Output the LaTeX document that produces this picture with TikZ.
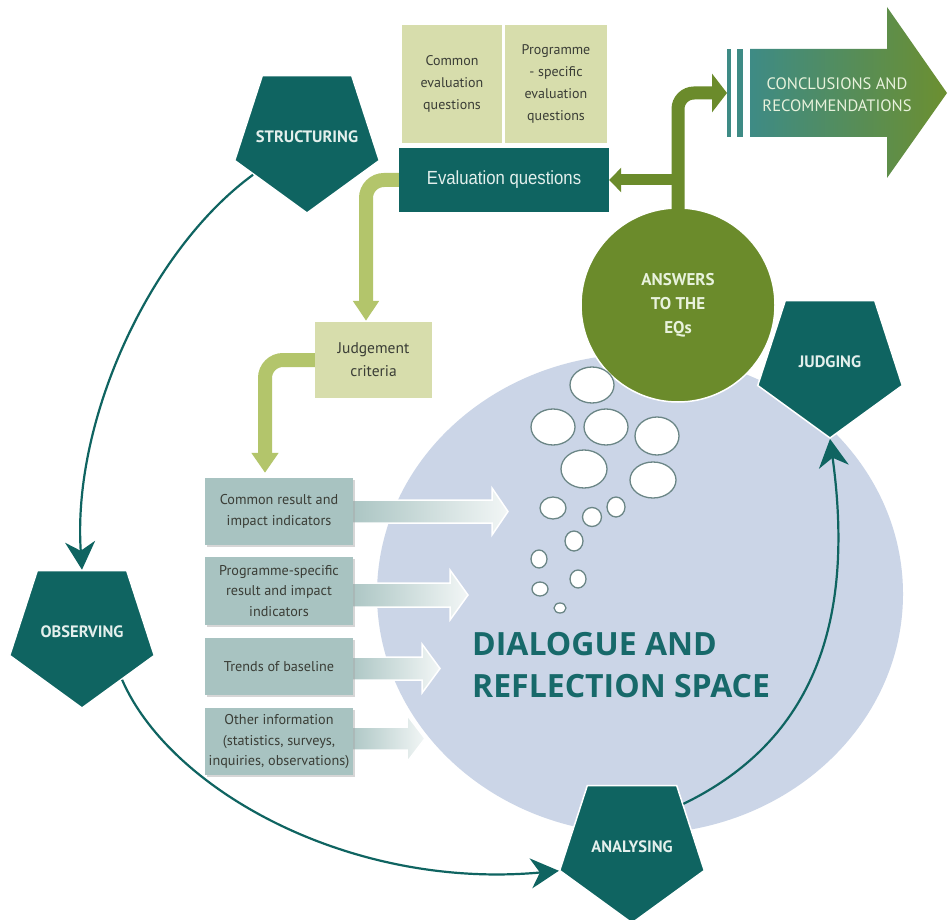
\documentclass[tikz,border=0pt]{standalone}
\usepackage{fontspec}
\setmainfont{PT Sans}
\newfontfamily\narrowf[FakeStretch=0.88]{Liberation Sans}
\newfontfamily\dlgfont{Open Sans}
\usetikzlibrary{shapes.geometric,arrows.meta,shadows,calc}
\definecolor{tealA}{HTML}{0F6461}
\definecolor{pentxt}{HTML}{E3EFEC}
\definecolor{ansg}{HTML}{6B8B2B}
\definecolor{lgbar}{HTML}{B3C56B}
\definecolor{khaki}{HTML}{D7DDAC}
\definecolor{indc}{HTML}{A8C3C1}
\definecolor{lblue}{HTML}{CBD5E7}
\definecolor{bubl}{HTML}{6B8686}
\definecolor{dtext}{HTML}{3A3D36}
\definecolor{dlgtxt}{HTML}{17696A}
\definecolor{concL}{HTML}{3E8B85}
\definecolor{concR}{HTML}{6C8F30}
\definecolor{conctxt}{HTML}{E8F2DC}
\begin{document}
\begin{tikzpicture}[x=1pt,y=-1pt,
  pent/.style={regular polygon, regular polygon sides=5, shape border rotate=180,
    minimum size=152pt, inner sep=0pt, fill=tealA, draw=white, line width=1.5pt,
    text=pentxt, font=\bfseries\fontsize{16.5}{18}\selectfont},
  cyc/.style={draw=tealA, line width=2.2pt, -{Stealth[length=28pt,width=30pt,inset=9pt]}},
  kbox/.style={rectangle, fill=khaki, inner sep=0pt, align=center, text=dtext,
    font=\fontsize{14}{22}\selectfont},
  ibox/.style={rectangle, fill=indc, inner sep=0pt, align=center, text=dtext,
    minimum width=148pt, font=\fontsize{14.2}{20.5}\selectfont,
    drop shadow={shadow xshift=2pt, shadow yshift=-2pt, fill=black!35, opacity=0.45}},
  fatarr/.style={left color=indc, right color=indc!15, draw=white, line width=1.5pt},
  lgpath/.style={draw=lgbar, line width=14pt, rounded corners=18pt},
  gpath/.style={draw=ansg, line width=13pt, rounded corners=16pt},
  bub/.style={fill=white, draw=bubl, line width=1.3pt},
  dlg/.style={anchor=base west, inner sep=0pt, text=dlgtxt,
    font=\dlgfont\bfseries\fontsize{32}{40}\selectfont}
]
\useasboundingbox (0,0) rectangle (950,920);
\fill[white] (0,0) rectangle (950,920);

% dialogue space
\fill[lblue] (640,594) ellipse [x radius=263, y radius=240];

% fat arrows from indicators
\shade[fatarr] (345,500) -- (492,500) -- (492,488) -- (508,511.5) -- (492,535) -- (492,523) -- (345,523) -- cycle;
\shade[fatarr] (345,583) -- (450,583) -- (450,570) -- (468,595) -- (450,620) -- (450,607) -- (345,607) -- cycle;
\shade[fatarr] (345,657) -- (422,657) -- (422,644) -- (440,668.5) -- (422,693) -- (422,680) -- (345,680) -- cycle;
\shade[fatarr] (345,727) -- (407,727) -- (407,715) -- (425,738.5) -- (407,762) -- (407,750) -- (345,750) -- cycle;

% indicator boxes
\node[ibox, minimum height=67pt] (i1) at (279,511.5) {Common result and\\impact indicators};
\node[ibox, minimum height=68pt] (i2) at (279,591) {Programme-specific\\result and impact\\indicators};
\node[ibox, minimum height=57pt] (i3) at (279,666.5) {Trends of baseline};
\node[ibox, minimum height=67pt] (i4) at (279,741.5) {Other information\\(statistics, surveys,\\inquiries, observations)};

% top boxes
\node[kbox, minimum width=100pt, minimum height=118pt] (ceq) at (452,84) {Common\\evaluation\\questions};
\node[kbox, minimum width=102pt, minimum height=118pt] (peq) at (556,84) {Programme\\- specific\\evaluation\\questions};
\node[rectangle, fill=tealA, minimum width=210pt, minimum height=64pt, inner sep=0pt,
  text=pentxt, font=\narrowf\fontsize{19}{22}\selectfont] (eq) at (504,180) {Evaluation questions};

% judgement criteria
\node[kbox, minimum width=117pt, minimum height=76pt, font=\fontsize{15.5}{23}\selectfont] (jc) at (373.5,360) {Judgement\\criteria};

% light green connectors
\draw[lgpath, -{Triangle[length=20pt,width=25pt]}] (eq.west) -| ($(jc.north)+(-7.5,-1)$);
\draw[lgpath, -{Triangle[length=20pt,width=26pt]}] (jc.west) -| ($(i1.north)+(-14,-5)$);

% conclusions arrow
\shade[left color=concL, right color=concR] (750,49) -- (887,49) -- (887,7) -- (947,93) -- (887,178) -- (887,137) -- (750,137) -- cycle;
\fill[concL] (727,49) rectangle (731,137);
\fill[concL] (737,49) rectangle (743,137);
\node[text=conctxt, align=center, inner sep=0pt, font=\fontsize{16.5}{22}\selectfont] (concl) at (837,95) {CONCLUSIONS AND\\RECOMMENDATIONS};
\coordinate (cin) at (727,93);

% answers circle
\node[circle, fill=ansg, draw=white, line width=1.5pt, minimum size=194pt, inner sep=0pt,
  align=center, text=conctxt, font=\bfseries\fontsize{17}{24}\selectfont] (ans) at (678,305) {ANSWERS\\TO THE\\EQs};

% green connectors
\draw[gpath, -{Triangle[length=15pt,width=38pt]}] ($(ans.north)+(0,2)$) |- (cin);
\draw[draw=ansg, line width=11pt, -{Triangle[length=12pt,width=24pt]}] (ans.north |- eq.east) -- (eq.east);

% bubbles
\draw[bub] (592,385) ellipse [x radius=22, y radius=18];
\draw[bub] (553,427) ellipse [x radius=22, y radius=18];
\draw[bub] (606,427) ellipse [x radius=22, y radius=18];
\draw[bub] (657,436) ellipse [x radius=22, y radius=19];
\draw[bub] (584,469) ellipse [x radius=23, y radius=19];
\draw[bub] (653,480) ellipse [x radius=23, y radius=18];
\draw[bub] (553,508) ellipse [x radius=13, y radius=11];
\draw[bub] (592,517) ellipse [x radius=9.5, y radius=9.5];
\draw[bub] (616,507) ellipse [x radius=9, y radius=10];
\draw[bub] (574,541) ellipse [x radius=9, y radius=10];
\draw[bub] (539,559) ellipse [x radius=8, y radius=9];
\draw[bub] (578,579) ellipse [x radius=8, y radius=9];
\draw[bub] (540,589) ellipse [x radius=8, y radius=7];
\draw[bub] (560,608) ellipse [x radius=6, y radius=5];

% dialogue text
\node[dlg] (dlg1) at (472,655) {DIALOGUE AND};
\node[dlg] (dlg2) at (472,697) {REFLECTION SPACE};

% pentagons
\node[pent] (str) at (307,137) {\makebox[0pt]{STRUCTURING}};
\node[pent] (obs) at (82,632) {\makebox[0pt]{OBSERVING}};
\node[pent] (ana) at (632,847) {\makebox[0pt]{ANALYSING}};
\node[pent] (jud) at (830,362) {\makebox[0pt]{JUDGING}};

% cycle connectors
\draw[cyc] (str.215) .. controls (150,250) and (72,420) .. (obs.north);
\draw[cyc] (obs.-50) .. controls (170,790) and (350,890) .. (ana.198);
\draw[cyc] (ana.40) .. controls (815,740) and (855,620) .. (jud.south);
\end{tikzpicture}
\end{document}
